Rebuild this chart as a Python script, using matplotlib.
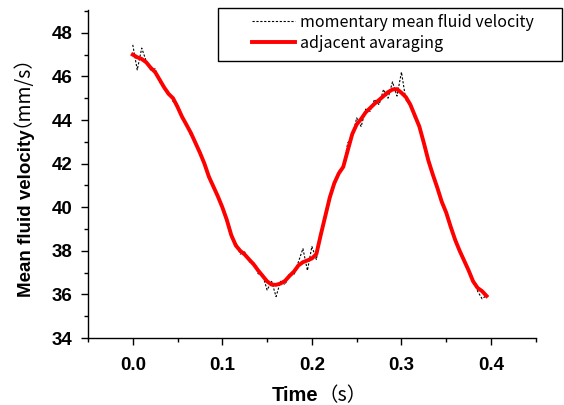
import numpy as np
import matplotlib.pyplot as plt
from matplotlib.ticker import MultipleLocator
from matplotlib.patches import Rectangle

# time axis (s)
time = np.arange(80) * 0.005

# adjacent averaging (red)
smooth = [47.0, 46.88, 46.8, 46.65, 46.4, 46.2, 45.85, 45.5, 45.2, 45.0,
          44.6, 44.15, 43.78, 43.4, 42.95, 42.5, 42.0, 41.4, 40.95, 40.5,
          40.0, 39.42, 38.72, 38.25, 38.0, 37.83, 37.6, 37.38, 37.1, 36.85,
          36.6, 36.45, 36.44, 36.5, 36.62, 36.85, 37.05, 37.33, 37.48, 37.56,
          37.65, 37.85, 38.75, 39.6, 40.45, 41.1, 41.55, 41.85, 42.6, 43.35,
          43.8, 44.05, 44.35, 44.55, 44.75, 44.92, 45.1, 45.28, 45.4, 45.42,
          45.25, 45.05, 44.7, 44.2, 43.7, 42.95, 42.15, 41.5, 40.9, 40.25,
          39.75, 39.1, 38.5, 38.0, 37.55, 37.1, 36.6, 36.3, 36.15, 35.93]

# momentary mean fluid velocity (black dashed)
momentary = [47.45, 46.3, 47.3, 46.7, 46.3, 46.35, 45.75, 45.45, 45.3, 44.85,
             44.75, 44.1, 43.85, 43.25, 43.05, 42.4, 42.05, 41.35, 41.0, 40.45,
             40.05, 39.3, 38.6, 38.4, 37.85, 37.95, 37.5, 37.45, 36.95, 36.9,
             36.2, 36.6, 35.9, 36.6, 36.45, 36.95, 36.9, 37.5, 38.1, 37.1,
             38.2, 37.6, 38.9, 39.5, 40.55, 41.0, 41.65, 41.8, 42.95, 43.2,
             44.1, 43.7, 44.5, 44.4, 44.95, 44.7, 45.4, 45.0, 45.75, 45.1,
             46.2, 44.9, 44.8, 44.05, 43.8, 42.85, 42.25, 41.45, 40.95, 40.15,
             39.85, 39.0, 38.6, 37.9, 37.65, 37.0, 36.7, 36.15, 35.8, 35.95]

fig = plt.figure(figsize=(5.64, 4.05), dpi=100)
ax = fig.add_axes([0.156, 0.1654, 0.794, 0.81])

l1, = ax.plot(time, momentary, color='black', lw=0.8, ls=(0, (2, 1.5)),
              label='momentary mean fluid velocity')
l2, = ax.plot(time, smooth, color='red', lw=2.8, label='adjacent avaraging')

ax.set_xlim(-0.05, 0.45)
ax.set_ylim(34, 49.05)
ax.xaxis.set_major_locator(MultipleLocator(0.1))
ax.xaxis.set_minor_locator(MultipleLocator(0.05))
ax.yaxis.set_major_locator(MultipleLocator(2))
ax.yaxis.set_minor_locator(MultipleLocator(1))
ax.set_xticks([0.0, 0.1, 0.2, 0.3, 0.4])
ax.set_xticklabels(['0.0', '0.1', '0.2', '0.3', '0.4'])
ax.spines['top'].set_visible(False)
ax.spines['right'].set_visible(False)
for s in ['left', 'bottom']:
    ax.spines[s].set_linewidth(1.0)
ax.tick_params(which='major', direction='out', length=5, width=1)
ax.tick_params(axis='x', which='major', pad=9)
ax.tick_params(axis='y', which='major', pad=6)
ax.tick_params(which='minor', direction='out', length=3, width=1)
for lab in ax.get_xticklabels() + ax.get_yticklabels():
    lab.set_fontfamily('Liberation Sans')
    lab.set_fontweight('bold')
    lab.set_fontsize(13.5)

# axis labels: bold part + CJK-style bracket part
fig.text(31 / 564, 1 - 297 / 405, 'Mean fluid velocity', rotation=90,
         rotation_mode='anchor', ha='left', va='baseline',
         family='Liberation Sans', weight='bold', fontsize=13.5)
fig.text(18 / 564, 1 - 127 / 405, '（mm/s）', rotation=90,
         rotation_mode='anchor', ha='left', va='baseline',
         family='Noto Sans CJK JP', fontsize=14)
fig.text(318 / 564, 1 - 401 / 405, 'Time', ha='right', va='baseline',
         family='Liberation Sans', weight='bold', fontsize=14.5)
fig.text(318 / 564, 1 - 401 / 405, '（s）', ha='left', va='baseline',
         family='Noto Sans CJK JP', fontsize=14)

leg = fig.legend(handles=[l1, l2], loc='upper left',
                 bbox_to_anchor=(252 / 564, 1 - 14 / 405), frameon=False,
                 borderpad=0, borderaxespad=0, handlelength=2.7,
                 handletextpad=0.3, labelspacing=0.25,
                 prop={'family': 'Noto Sans CJK JP', 'size': 11.5})
fig.patches.append(Rectangle((218 / 564, 1 - 61 / 405), 344 / 564, 53 / 405,
                             transform=fig.transFigure, fill=False,
                             edgecolor='black', lw=1.0))

fig.savefig('out.png', dpi=100)
